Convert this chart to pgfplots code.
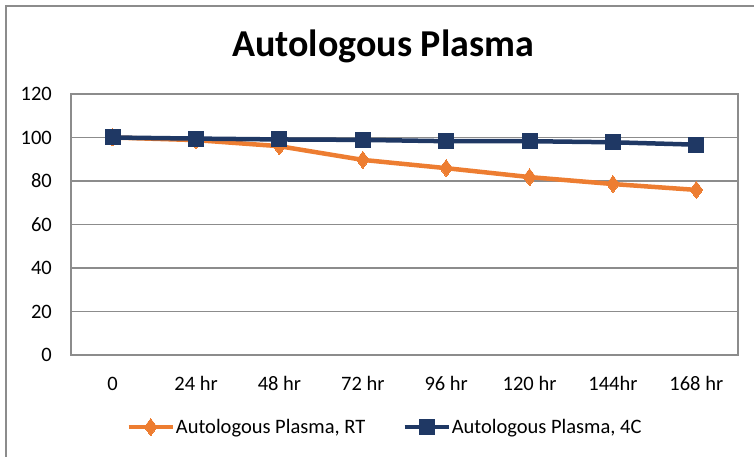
\documentclass[border=0pt]{standalone}
\usepackage{pgfplots}
\pgfplotsset{compat=1.18}
\usepackage{fontspec}
\setmainfont{Carlito}
\definecolor{orng}{HTML}{ED7D31}
\definecolor{navy}{HTML}{1F3864}
\definecolor{gridc}{HTML}{8C8C8C}
\begin{document}
\begin{tikzpicture}
\useasboundingbox (-71pt,-102pt) rectangle (683pt,355pt);
\draw[gridc, line width=1.5pt] (-65pt,-110pt) -- (-65pt,349pt) -- (690pt,349pt);
\begin{axis}[
  scale only axis,
  width=667pt, height=261pt,
  at={(0pt,0pt)}, anchor=south west,
  xmin=-0.5, xmax=7.5, ymin=0, ymax=120,
  xtick={0,...,7},
  xticklabels={0,24 hr,48 hr,72 hr,96 hr,120 hr,144hr,168 hr},
  ytick={0,20,...,120},
  major tick length=0pt,
  ymajorgrids,
  grid style={gridc, line width=1.5pt},
  axis line style={gridc, line width=1.5pt},
  ticklabel style={font=\fontsize{20.5}{24}\selectfont, text=black},
  /pgf/number format/assume math mode=true,
  yticklabel style={inner sep=0pt, anchor=east, xshift=-19pt},
  xticklabel style={inner sep=0pt, anchor=base, yshift=-35pt},
  title={\bfseries Autologous Plasma},
  title style={font=\fontsize{38}{40}\selectfont, anchor=center, at={(0.468,1.0)}, yshift=42pt},
  legend columns=2,
  legend style={at={(0.470,-0.276)}, anchor=center, draw=none, fill=none,
    font=\fontsize{20.5}{24}\selectfont, inner sep=0pt,
    /tikz/every even column/.append style={column sep=36pt},
    nodes={inner sep=1pt}},
  legend cell align=left,
  legend image code/.code={\draw[#1,mark repeat=2,mark phase=2] plot coordinates {(0pt,0pt)(22pt,0pt)(44pt,0pt)};},
]
\addplot[orng, line width=4.5pt, mark=diamond*, mark size=8.5pt, mark options={solid, line width=0pt}] coordinates {
(0,100) (1,98.8) (2,96.0) (3,89.7) (4,85.9) (5,81.8) (6,78.6) (7,75.9)};
\addlegendentry{Autologous Plasma, RT}
\addplot[navy, line width=4.5pt, mark=square*, mark size=7.5pt, mark options={solid, line width=0pt}] coordinates {
(0,100) (1,99.5) (2,99.1) (3,98.9) (4,98.3) (5,98.3) (6,97.8) (7,96.7)};
\addlegendentry{Autologous Plasma, 4C}
\end{axis}
\end{tikzpicture}
\end{document}
